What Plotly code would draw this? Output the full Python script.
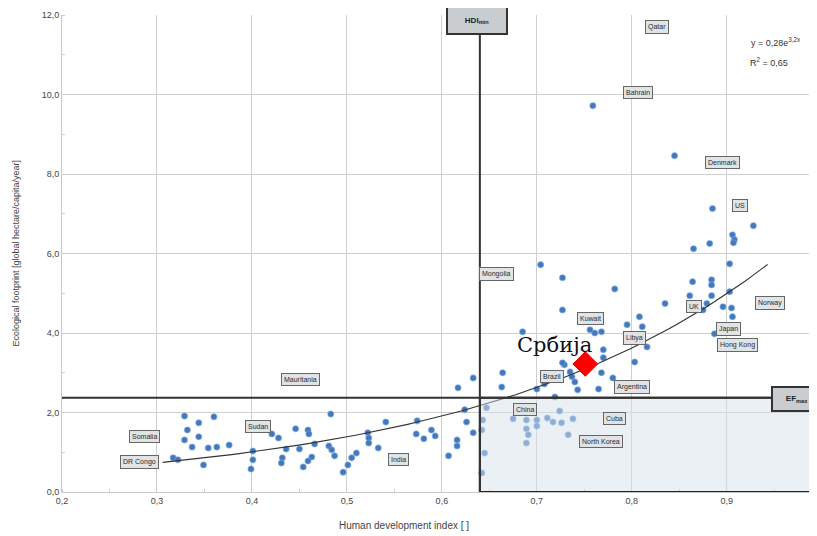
import plotly.graph_objects as go
import numpy as np

# ---- data ----
hdi = [0.317, 0.322, 0.329, 0.360, 0.344, 0.332, 0.344, 0.329, 0.337, 0.354, 0.363, 0.376, 0.349,
       0.401, 0.401, 0.399, 0.421, 0.428, 0.436, 0.432, 0.431,
       0.483, 0.446, 0.459, 0.460, 0.466, 0.450, 0.481, 0.484, 0.487, 0.463, 0.459, 0.454,
       0.510, 0.505, 0.501, 0.496, 0.522, 0.523, 0.523, 0.533, 0.541, 0.574, 0.573, 0.581, 0.589, 0.593,
       0.607, 0.616, 0.616, 0.617, 0.633, 0.664, 0.663, 0.624, 0.626, 0.633,
       0.647, 0.643, 0.642, 0.645, 0.642, 0.675, 0.689, 0.689, 0.691, 0.689, 0.700, 0.700, 0.711, 0.717,
       0.726, 0.724, 0.733, 0.738, 0.719,
       0.700, 0.708, 0.717, 0.729, 0.735, 0.737, 0.740, 0.743, 0.765, 0.768, 0.770, 0.780, 0.727,
       0.704, 0.727, 0.782, 0.727, 0.685, 0.756, 0.761, 0.768, 0.770, 0.795, 0.808, 0.811, 0.816, 0.803,
       0.759, 0.845, 0.885, 0.928, 0.906, 0.908, 0.907, 0.865, 0.882, 0.903, 0.864, 0.884, 0.884, 0.835,
       0.861, 0.884, 0.903, 0.879, 0.875, 0.896, 0.905, 0.906, 0.887]
ef = [0.86, 0.81, 1.91, 1.89, 1.74, 1.56, 1.39, 1.31, 1.13, 1.11, 1.13, 1.18, 0.68,
      1.03, 0.81, 0.58, 1.46, 1.36, 1.08, 0.86, 0.73,
      1.96, 1.59, 1.56, 1.46, 1.21, 1.08, 1.16, 1.06, 0.91, 0.88, 0.78, 0.63,
      0.98, 0.86, 0.68, 0.50, 1.49, 1.36, 1.23, 1.11, 1.76, 1.79, 1.46, 1.34, 1.56, 1.41,
      0.91, 1.31, 1.16, 2.62, 2.87, 3.00, 2.64, 2.07, 1.76, 1.49,
      2.12, 1.81, 1.56, 0.98, 0.48, 1.84, 1.81, 1.59, 1.44, 1.23, 1.81, 1.66, 1.86, 1.76,
      1.74, 2.04, 1.44, 1.84, 2.39,
      2.59, 2.72, 2.85, 3.20, 3.02, 2.90, 2.77, 2.57, 2.59, 3.00, 3.58, 2.87, 3.25,
      5.72, 5.39, 5.11, 4.58, 4.03, 4.08, 4.00, 4.03, 3.38, 4.21, 4.41, 4.16, 3.65, 3.27,
      9.72, 8.46, 7.13, 6.70, 6.47, 6.35, 6.27, 6.12, 6.25, 5.74, 5.29, 5.34, 5.21, 4.74,
      4.94, 4.94, 5.04, 4.74, 4.58, 4.66, 4.63, 4.41, 3.98]

serbia_hdi = [0.751]
serbia_ef = [3.22]

# trend line y = a * exp(b x)
fit_a = 0.28
fit_b = 3.2
fit_range = [0.306, 0.943]

hdi_min = 0.64
ef_max = 2.37

labels = ["Qatar", "Bahrain", "Denmark", "US", "Mongolia", "Norway", "UK", "Kuwait", "Japan",
          "Libya", "Hong Kong", "Mauritania", "Brazil", "Argentina", "China", "Cuba",
          "North Korea", "Sudan", "Somalia", "DR Congo", "India"]
label_x = [0.826, 0.807, 0.895, 0.914, 0.658, 0.945, 0.866, 0.757, 0.902,
           0.803, 0.911, 0.451, 0.716, 0.800, 0.688, 0.782,
           0.768, 0.406, 0.287, 0.282, 0.554]
label_y = [11.71, 10.06, 8.29, 7.20, 5.49, 4.76, 4.66, 4.36, 4.11,
           3.88, 3.70, 2.82, 2.90, 2.64, 2.07, 1.86,
           1.28, 1.66, 1.39, 0.76, 0.83]

x_ticks = [0.2, 0.3, 0.4, 0.5, 0.6, 0.7, 0.8, 0.9]
y_ticks = [0, 2, 4, 6, 8, 10, 12]

X_MAX = 0.995
ML, MT, MB, W, H = 54, 7, 44, 809, 528
PW = W - ML
PH = H - MT - MB

fig = go.Figure()

fig.add_trace(go.Scatter(
    x=hdi, y=ef, mode="markers",
    marker=dict(color="#4677b8", size=6, line=dict(color="rgba(110,165,230,0.55)", width=1.2)),
    showlegend=False, hoverinfo="skip"))

xs = np.linspace(fit_range[0], fit_range[1], 80)
fig.add_trace(go.Scatter(
    x=xs, y=fit_a * np.exp(fit_b * xs), mode="lines",
    line=dict(color="#333333", width=1.1), showlegend=False, hoverinfo="skip"))

fig.add_trace(go.Scatter(
    x=serbia_hdi, y=serbia_ef, mode="markers",
    marker=dict(color="#ff0000", size=19, symbol="diamond", line=dict(color="#e00000", width=1)),
    showlegend=False, hoverinfo="skip"))

# shaded region
fig.add_shape(type="rect", x0=hdi_min, x1=X_MAX, y0=0, y1=ef_max,
              fillcolor="rgba(215,226,236,0.5)", line=dict(color="#222222", width=2), layer="above")
# HDI min vertical line
fig.add_shape(type="line", x0=hdi_min, x1=hdi_min, y0=0, y1=11.6,
              line=dict(color="#333333", width=2), layer="above")
# EF max horizontal line
fig.add_shape(type="line", x0=0.2, x1=X_MAX, y0=ef_max, y1=ef_max,
              line=dict(color="#333333", width=2), layer="above")

for t, lx, ly in zip(labels, label_x, label_y):
    fig.add_annotation(x=lx, y=ly, text=t, showarrow=False,
                       font=dict(family="Liberation Sans", size=7, color="#2a2a2a"),
                       bgcolor="#e0e4e6", bordercolor="#666666", borderwidth=1, borderpad=2)

fig.add_annotation(x=0.637, y=11.86, text="<b>HDI<sub>min</sub></b>", showarrow=False,
                   font=dict(family="Liberation Sans", size=8, color="#222222"),
                   bgcolor="#c9cdd0", bordercolor="#333333", borderwidth=2, borderpad=3,
                   width=52, height=19)
fig.add_annotation(x=0.974, y=2.34, text="<b>EF<sub>max</sub></b>", showarrow=False,
                   font=dict(family="Liberation Sans", size=8, color="#222222"),
                   bgcolor="#c9cdd0", bordercolor="#333333", borderwidth=2, borderpad=3,
                   width=42, height=16)

fig.add_annotation(x=0.952, y=11.31, text="y = 0,28e<sup>3,2x</sup>", showarrow=False,
                   font=dict(family="Liberation Sans", size=9, color="#333333"))
fig.add_annotation(x=0.944, y=10.83, text="R<sup>2</sup> = 0,65", showarrow=False,
                   font=dict(family="Liberation Sans", size=9, color="#333333"))

fig.add_annotation(x=0.719, y=3.70, text="Србија", showarrow=False,
                   font=dict(family="DejaVu Serif", size=21, color="#111111"))

# axis titles
fig.add_annotation(xref="paper", yref="paper", x=(396 - ML) / PW, y=-33 / PH,
                   text="Human development index [ ]", showarrow=False,
                   font=dict(family="Liberation Sans", size=10, color="#444444"),
                   xanchor="center", yanchor="middle")
fig.add_annotation(xref="paper", yref="paper", x=-ML / PW, y=0.5,
                   text="Ecological footprint [global hectare/capita/year]", showarrow=False,
                   textangle=-90, font=dict(family="Liberation Sans", size=9, color="#444444"),
                   xanchor="left", yanchor="middle")

fig.update_layout(
    width=W, height=H,
    margin=dict(l=ML, r=0, t=MT, b=MB),
    paper_bgcolor="white", plot_bgcolor="white",
    separators=",.",
    font=dict(family="Liberation Sans", size=9, color="#444444"),
    xaxis=dict(range=[0.2, X_MAX], tickvals=x_ticks, tickformat=".1f",
               showgrid=True, gridcolor="#cfcfcf", gridwidth=1, zeroline=False,
               showline=True, linecolor="#c8c8c8", ticks="",
               minor=dict(dtick=0.05, tick0=0.2, ticks="inside", ticklen=3, tickcolor="#cccccc", showgrid=False)),
    yaxis=dict(range=[0, 12], tickvals=y_ticks, tickformat=".1f",
               showgrid=True, gridcolor="#cfcfcf", gridwidth=1, zeroline=False,
               showline=True, linecolor="#c8c8c8", ticks="",
               minor=dict(dtick=1, ticks="inside", ticklen=3, tickcolor="#cccccc", showgrid=False)),
)

fig.write_html("out.html")
